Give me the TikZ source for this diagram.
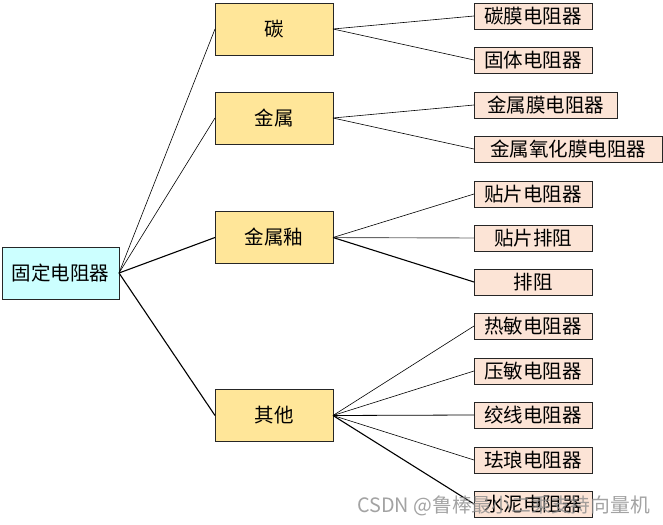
\documentclass[tikz,border=0pt]{standalone}
\usepackage{fontspec}
\newfontfamily\cjk{Noto Sans CJK SC}
\definecolor{rootfill}{HTML}{CCFFFF}
\definecolor{midfill}{HTML}{FFE699}
\definecolor{leaffill}{HTML}{FCE4D6}
\definecolor{wmgray}{HTML}{8C8C8C}
\tikzset{
  base/.style={draw=black!85, line width=0.9pt, inner sep=0pt, outer sep=0pt,
    font=\cjk\fontsize{19.5}{21}\selectfont, text=black},
  rootbox/.style={base, fill=rootfill, minimum width=117pt, minimum height=52pt},
  midbox/.style={base, fill=midfill, minimum width=118pt, minimum height=52pt},
  leafbox/.style={base, fill=leaffill, minimum width=118pt, minimum height=26pt},
  conn/.style={draw=black, line width=0.6pt},
  connb/.style={draw=black, line width=1.1pt},
  conng/.style={draw=black!60, line width=0.9pt}
}
\begin{document}
\begin{tikzpicture}[x=1pt,y=-1pt]
\useasboundingbox[fill=white] (0,0) rectangle (663,524);
% root
\node[rootbox] (root) at (60.5,273) {固定电阻器};
% mid
\node[midbox] (tan) at (274,29) {碳};
\node[midbox] (jinshu) at (274,118) {金属};
\node[midbox] (you) at (274,237.5) {金属釉};
\node[midbox] (qita) at (274,415.5) {其他};
% leaves
\node[leafbox] (l1) at (533,16) {碳膜电阻器};
\node[leafbox] (l2) at (533,60) {固体电阻器};
\node[leafbox, minimum width=143pt] (l3) at (545.5,105) {金属膜电阻器};
\node[leafbox, minimum width=188pt] (l4) at (568,149) {金属氧化膜电阻器};
\node[leafbox] (l5) at (533,194) {贴片电阻器};
\node[leafbox] (l6) at (533,238) {贴片排阻};
\node[leafbox] (l7) at (533,282) {排阻};
\node[leafbox] (l8) at (533,326) {热敏电阻器};
\node[leafbox] (l9) at (533,371) {压敏电阻器};
\node[leafbox] (l10) at (533,415) {绞线电阻器};
\node[leafbox] (l11) at (533,460) {珐琅电阻器};
\node[leafbox] (l12) at (533,504) {水泥电阻器};
% connectors
\coordinate (rp) at (root.east);
\draw[conn] (rp) -- (tan.west);
\draw[conn] (rp) -- (jinshu.west);
\draw[connb] (rp) -- (you.west);
\draw[connb] (rp) -- (qita.west);
\draw[conn] (tan.east) -- (l1.west);
\draw[conn] (tan.east) -- (l2.west);
\draw[conn] (jinshu.east) -- (l3.west);
\draw[conn] (jinshu.east) -- (l4.west);
\draw[conn] (you.east) -- (l5.west);
\draw[conng] (you.east) -- (l6.west);
\draw[connb] (you.east) -- (l7.west);
\draw[conn] (qita.east) -- (l8.west);
\draw[conn] (qita.east) -- (l9.west);
\draw[conn,line width=0.8pt] (qita.east) -- (l10.west);
\draw[conn] (qita.east) -- (l11.west);
\draw[connb] (qita.east) -- (l12.west);
% watermark
\node[anchor=base west, inner sep=0pt, text=wmgray, opacity=0.8,
  font=\cjk\fontsize{19.8}{21}\selectfont] (wm) at (357,512) {CSDN @鲁棒最小二乘支持向量机};
\end{tikzpicture}
\end{document}
